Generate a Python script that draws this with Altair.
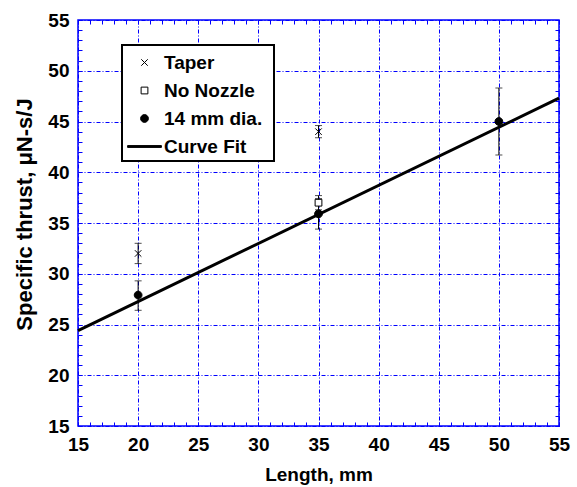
import altair as alt
import pandas as pd

# ---------------- data ----------------
series_order = ["Taper", "No Nozzle", "14 mm dia.", "Curve Fit"]

taper_x = [20, 35]
taper_y = [32.0, 44.0]
taper_lo = [31.0, 43.4]
taper_hi = [33.0, 44.6]

nozzle_x = [35]
nozzle_y = [37.0]
nozzle_lo = [36.3]
nozzle_hi = [37.7]

dia_x = [20, 35, 50]
dia_y = [27.9, 35.9, 45.0]
dia_lo = [26.4, 34.4, 41.7]
dia_hi = [29.3, 37.4, 48.3]

fit_x = [15, 55]
fit_y = [24.4, 47.3]

major_ticks = [15, 20, 25, 30, 35, 40, 45, 50, 55]
minor_ticks = list(range(15, 56))

# ---------------- tables ----------------
pts = pd.DataFrame({
    "series": ["Taper"] * len(taper_x) + ["No Nozzle"] * len(nozzle_x) + ["14 mm dia."] * len(dia_x),
    "x": taper_x + nozzle_x + dia_x,
    "y": taper_y + nozzle_y + dia_y,
    "lo": taper_lo + nozzle_lo + dia_lo,
    "hi": taper_hi + nozzle_hi + dia_hi,
})
caps = pd.DataFrame({
    "x": list(pts["x"]) * 2,
    "y": list(pts["lo"]) + list(pts["hi"]),
})
fit = pd.DataFrame({"x": fit_x, "y": fit_y})

# ---------------- style ----------------
BLUE = "#0000ff"
FONT = "Liberation Sans"
xs = alt.Scale(domain=[15, 55], nice=False, zero=False)
ys = alt.Scale(domain=[15, 55], nice=False, zero=False)

shape_paths = [
    "M-0.25,-0.25L0.25,0.25M-0.25,0.25L0.25,-0.25",
    "M-0.26,-0.26L0.26,-0.26L0.26,0.26L-0.26,0.26Z",
    "M-0.3,0A0.3,0.3,0,1,0,0.3,0A0.3,0.3,0,1,0,-0.3,0Z",
    "M-1.3,-0.07L1.3,-0.07L1.3,0.07L-1.3,0.07Z",
]
fills = ["white", "white", "black", "black"]
strokes = ["black", "black", "black", "black"]


def main_axis(title, orient, title_size, **extra):
    return alt.Axis(
        orient=orient, values=major_ticks, title=title,
        grid=True, gridColor=BLUE, gridDash=[4, 2, 1, 2], gridWidth=1, gridOpacity=1,
        ticks=False, domain=False, labelFlush=False, labelOverlap=False,
        labelFont=FONT, labelFontSize=19, labelFontWeight="bold", labelColor="black",
        labelPadding=9,
        titleFont=FONT, titleFontSize=title_size, titleFontWeight="bold", titleColor="black",
        titlePadding=11, **extra,
    )


def tick_axis(orient):
    return alt.Axis(
        orient=orient, values=minor_ticks, title=None, labels=False, domain=False,
        grid=False, ticks=True, tickSize=4, tickColor=BLUE, tickWidth=1, offset=-4,
    )


base_line = alt.Chart(fit).mark_line(color="black", strokeWidth=3).encode(
    x=alt.X("x:Q", scale=xs, axis=main_axis("Length, mm", "bottom", 19)),
    y=alt.Y("y:Q", scale=ys, axis=main_axis("Specific thrust, μN-s/J", "left", 22, titleY=194)),
)

ticks_bl = alt.Chart(fit).mark_line(opacity=0).encode(
    x=alt.X("x:Q", scale=xs, axis=tick_axis("bottom")),
    y=alt.Y("y:Q", scale=ys, axis=tick_axis("left")),
)
ticks_tr = alt.Chart(fit).mark_line(opacity=0).encode(
    x=alt.X("x:Q", scale=xs, axis=tick_axis("top")),
    y=alt.Y("y:Q", scale=ys, axis=tick_axis("right")),
)

rules = alt.Chart(pts).mark_rule(color="black", strokeWidth=1).encode(
    x=alt.X("x:Q", scale=xs, axis=None),
    y=alt.Y("lo:Q", scale=ys, axis=None),
    y2="hi:Q",
)
cap_marks = alt.Chart(caps).mark_tick(orient="horizontal", size=7, thickness=1, color="black").encode(
    x=alt.X("x:Q", scale=xs, axis=None),
    y=alt.Y("y:Q", scale=ys, axis=None),
)

points = alt.Chart(pts).mark_point(size=676, filled=True, strokeWidth=1, opacity=1).encode(
    x=alt.X("x:Q", scale=xs, axis=None),
    y=alt.Y("y:Q", scale=ys, axis=None),
    shape=alt.Shape("series:N", title=" ", scale=alt.Scale(domain=series_order, range=shape_paths)),
    fill=alt.Fill("series:N", title=" ", scale=alt.Scale(domain=series_order, range=fills)),
    stroke=alt.Stroke("series:N", title=" ", scale=alt.Scale(domain=series_order, range=strokes)),
)

chart = (
    alt.layer(base_line, ticks_bl, ticks_tr, rules, cap_marks, points)
    .resolve_axis(x="independent", y="independent")
    .properties(
        width=481, height=406,
        autosize=alt.AutoSizeParams(type="none"),
        padding={"left": 78, "top": 20, "right": 18, "bottom": 61},
        background="white",
    )
    .configure_view(stroke=BLUE, strokeWidth=1.5)
    .configure_legend(
        orient="none", legendX=44, legendY=25,
        strokeColor="black", strokeWidth=2, fillColor="white",
        padding=4, rowPadding=4,
        symbolSize=676, symbolStrokeWidth=1, symbolOffset=5,
        labelFont=FONT, labelFontSize=19, labelFontWeight="bold", labelColor="black",
        labelOffset=6, labelLimit=300,
        titleOrient="right", titlePadding=8, titleFontSize=18, titleFont=FONT,
    )
)

chart.save("out.html", embed_options={"renderer": "svg", "actions": False})
